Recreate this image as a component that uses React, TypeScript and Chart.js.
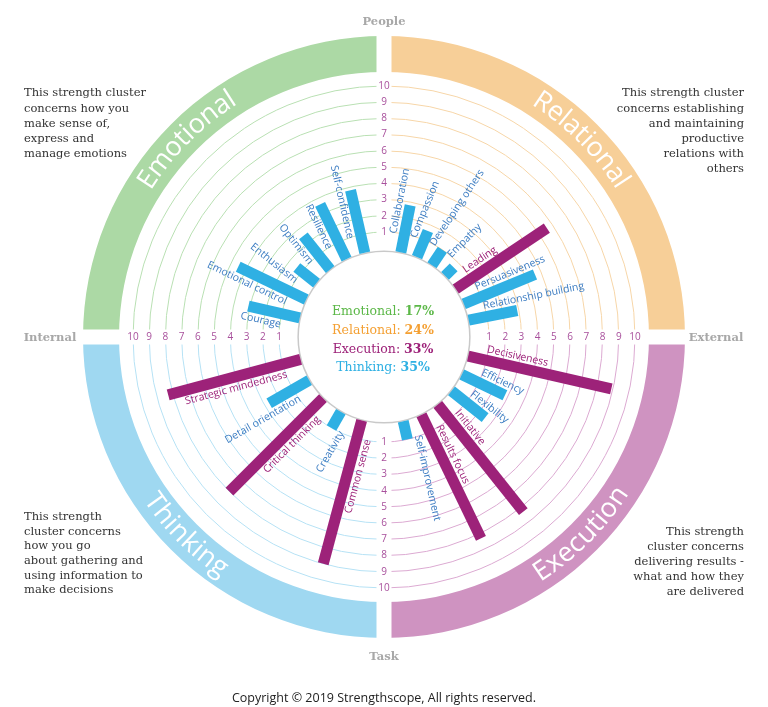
import React, { useEffect, useRef } from 'react';
import { Chart, registerables } from 'chart.js';

Chart.register(...registerables);

// ---------------- data ----------------
const executionStrengths = ['Decisiveness', 'Efficiency', 'Flexibility', 'Initiative', 'Results focus', 'Self-improvement'];
const executionScores = [8.9, 2.8, 2.5, 8.3, 8.3, 1.0];

const thinkingStrengths = ['Common sense', 'Creativity', 'Critical thinking', 'Detail orientation', 'Strategic mindedness'];
const thinkingScores = [9.0, 1.0, 8.0, 2.7, 8.3];

const emotionalStrengths = ['Courage', 'Emotional control', 'Enthusiasm', 'Optimism', 'Resilience', 'Self-confidence'];
const emotionalScores = [3.1, 4.5, 1.4, 2.5, 3.6, 3.8];

const relationalStrengths = ['Collaboration', 'Compassion', 'Developing others', 'Empathy', 'Leading', 'Persuasiveness', 'Relationship building'];
const relationalScores = [2.8, 1.6, 1.0, 0.6, 6.6, 4.6, 2.9];

const topStrengths = ['Leading', 'Decisiveness', 'Initiative', 'Results focus', 'Common sense', 'Critical thinking', 'Strategic mindedness'];

const clusterLabels = ['Emotional', 'Relational', 'Execution', 'Thinking'];
const clusterShares = [17, 24, 33, 35];

const ringTicks = [1, 2, 3, 4, 5, 6, 7, 8, 9, 10];

const axisTop = 'People';
const axisBottom = 'Task';
const axisLeft = 'Internal';
const axisRight = 'External';

const emotionalText = ['This strength cluster', 'concerns how you', 'make sense of,', 'express and', 'manage emotions'];
const relationalText = ['This strength cluster', 'concerns establishing', 'and maintaining', 'productive', 'relations with', 'others'];
const thinkingText = ['This strength', 'cluster concerns', 'how you go', 'about gathering and', 'using information to', 'make decisions'];
const executionText = ['This strength', 'cluster concerns', 'delivering results -', 'what and how they', 'are delivered'];

const copyrightText = 'Copyright © 2019 Strengthscope, All rights reserved.';

// ---------------- styling ----------------
const DEG = Math.PI / 180;
const SLAB = '"DejaVu Serif", serif';
const SANS = '"Open Sans", "Noto Sans", sans-serif';
const BAR_BLUE = '#2fb0e3';
const BAR_PURPLE = '#9d2279';
const LABEL_BLUE = '#3b7cc2';
const TICK_COLOR = '#a8509c';
const AXIS_GREY = '#a8a8a8';

const quadStyles: Record<string, { start: number; band: string; ring: string; text: string }> = {
  Emotional: { start: 180, band: '#acd9a5', ring: '#b9e0b3', text: '#5cb848' },
  Relational: { start: 270, band: '#f7cf98', ring: '#f7d6a8', text: '#f4a033' },
  Execution: { start: 0, band: '#cf93c1', ring: '#dcaad2', text: BAR_PURPLE },
  Thinking: { start: 90, band: '#9fd8f1', ring: '#b6e2f5', text: BAR_BLUE },
};

type Bar = { name: string; score: number; angle: number; top: boolean };

function layoutQuadrant(names: string[], scores: number[], startDeg: number): Bar[] {
  const step = 90 / (names.length + 1);
  return names.map((name, i) => ({
    name,
    score: scores[i],
    angle: (startDeg + step * (i + 1)) * DEG,
    top: topStrengths.includes(name),
  }));
}

const bars: Bar[] = [
  ...layoutQuadrant(executionStrengths, executionScores, quadStyles.Execution.start),
  ...layoutQuadrant(thinkingStrengths, thinkingScores, quadStyles.Thinking.start),
  ...layoutQuadrant(emotionalStrengths, emotionalScores, quadStyles.Emotional.start),
  ...layoutQuadrant(relationalStrengths, relationalScores, quadStyles.Relational.start),
];

function drawArcText(ctx: CanvasRenderingContext2D, text: string, cx: number, cy: number, R: number, center: number, topHalf: boolean) {
  const total = ctx.measureText(text).width;
  const totalAngle = total / R;
  let a = topHalf ? center - totalAngle / 2 : center + totalAngle / 2;
  for (const ch of text) {
    const w = ctx.measureText(ch).width;
    const mid = topHalf ? a + w / 2 / R : a - w / 2 / R;
    ctx.save();
    ctx.translate(cx + R * Math.cos(mid), cy + R * Math.sin(mid));
    ctx.rotate(topHalf ? mid + Math.PI / 2 : mid - Math.PI / 2);
    ctx.textAlign = 'center';
    ctx.textBaseline = 'middle';
    ctx.fillText(ch, 0, 0);
    ctx.restore();
    a = topHalf ? a + w / R : a - w / R;
  }
}

function drawLines(ctx: CanvasRenderingContext2D, lines: string[], x: number, y0: number, step: number, align: CanvasTextAlign) {
  ctx.textAlign = align;
  ctx.textBaseline = 'middle';
  lines.forEach((l, i) => ctx.fillText(l, x, y0 + i * step));
}

const wheelPlugin = {
  id: 'strengthWheel',
  beforeDatasetsDraw(chart: any) {
    const ctx: CanvasRenderingContext2D = chart.ctx;
    const s = chart.scales.r;
    const cx = s.xCenter;
    const cy = s.yCenter;
    const R = (v: number) => s.getDistanceFromCenterForValue(v);
    ctx.save();
    const bandIn = R(10.86);
    const bandOut = R(13.08);
    // outer cluster bands
    clusterLabels.forEach((c) => {
      const q = quadStyles[c];
      ctx.beginPath();
      ctx.arc(cx, cy, bandOut, q.start * DEG, (q.start + 90) * DEG);
      ctx.arc(cx, cy, bandIn, (q.start + 90) * DEG, q.start * DEG, true);
      ctx.closePath();
      ctx.fillStyle = q.band;
      ctx.fill();
    });
    // rings
    ringTicks.forEach((v) => {
      clusterLabels.forEach((c) => {
        const q = quadStyles[c];
        ctx.beginPath();
        ctx.arc(cx, cy, R(v), q.start * DEG, (q.start + 90) * DEG);
        ctx.strokeStyle = q.ring;
        ctx.lineWidth = 1;
        ctx.stroke();
      });
    });
    // white cross gaps
    const half = 7.5;
    ctx.fillStyle = '#ffffff';
    ctx.fillRect(cx - half, cy - bandOut - 2, half * 2, bandOut * 2 + 4);
    ctx.fillRect(cx - bandOut - 2, cy - half, bandOut * 2 + 4, half * 2);
    // tick labels
    ctx.fillStyle = TICK_COLOR;
    ctx.font = `10px ${SANS}`;
    ctx.textAlign = 'center';
    ctx.textBaseline = 'middle';
    ringTicks.forEach((v) => {
      const r = R(v);
      const t = String(v);
      ctx.fillText(t, cx, cy - r);
      ctx.fillText(t, cx, cy + r);
      ctx.fillText(t, cx - r, cy);
      ctx.fillText(t, cx + r, cy);
    });
    // band titles
    ctx.fillStyle = '#ffffff';
    ctx.font = `27px ${SANS}`;
    const mid = (bandIn + bandOut) / 2;
    clusterLabels.forEach((c) => {
      const q = quadStyles[c];
      const center = (q.start + 45) * DEG;
      const topHalf = Math.sin(center) < 0;
      drawArcText(ctx, c, cx, cy, mid, center, topHalf);
    });
    // centre circle
    ctx.beginPath();
    ctx.arc(cx, cy, R(-0.18), 0, Math.PI * 2);
    ctx.fillStyle = '#ffffff';
    ctx.fill();
    ctx.strokeStyle = '#c9c9c9';
    ctx.lineWidth = 1.5;
    ctx.stroke();
    ctx.restore();
  },
  afterDatasetsDraw(chart: any) {
    const ctx: CanvasRenderingContext2D = chart.ctx;
    const s = chart.scales.r;
    const cx = s.xCenter;
    const cy = s.yCenter;
    const R = (v: number) => s.getDistanceFromCenterForValue(v);
    ctx.save();
    const barW = 11;
    const r0 = R(-0.15);
    const labelStart = R(0.9);
    const off = 11;
    bars.forEach((b) => {
      const r1 = R(b.score);
      ctx.save();
      ctx.translate(cx, cy);
      ctx.rotate(b.angle);
      ctx.fillStyle = b.top ? BAR_PURPLE : BAR_BLUE;
      ctx.fillRect(r0, -barW / 2, r1 - r0, barW);
      ctx.restore();
      // label
      ctx.save();
      ctx.translate(cx, cy);
      ctx.font = `10.5px ${SANS}`;
      ctx.fillStyle = b.top ? BAR_PURPLE : LABEL_BLUE;
      ctx.textBaseline = 'middle';
      if (Math.cos(b.angle) > 0) {
        ctx.rotate(b.angle);
        ctx.textAlign = 'left';
        ctx.fillText(b.name, labelStart, -off);
      } else {
        ctx.rotate(b.angle + Math.PI);
        ctx.textAlign = 'right';
        ctx.fillText(b.name, -labelStart, off);
      }
      ctx.restore();
    });

    // centre percentages
    const lineGap = 18.7;
    clusterLabels.forEach((c, i) => {
      const y = cy - 25 + i * lineGap;
      const a = `${c}: `;
      const b = `${clusterShares[i]}%`;
      ctx.font = `12.5px ${SLAB}`;
      const wa = ctx.measureText(a).width;
      ctx.font = `bold 12.5px ${SLAB}`;
      const wb = ctx.measureText(b).width;
      const x0 = cx - 1 - (wa + wb) / 2;
      ctx.fillStyle = quadStyles[c].text;
      ctx.textAlign = 'left';
      ctx.textBaseline = 'middle';
      ctx.font = `12.5px ${SLAB}`;
      ctx.fillText(a, x0, y);
      ctx.font = `bold 12.5px ${SLAB}`;
      ctx.fillText(b, x0 + wa, y);
    });

    // axis labels
    ctx.fillStyle = AXIS_GREY;
    ctx.font = `bold 11.5px ${SLAB}`;
    ctx.textAlign = 'center';
    ctx.textBaseline = 'middle';
    ctx.fillText(axisTop, cx, 22);
    ctx.fillText(axisBottom, cx, 657);
    ctx.fillText(axisLeft, 50, cy + 1);
    ctx.fillText(axisRight, 716, cy + 1);

    // descriptions
    ctx.fillStyle = '#333333';
    ctx.font = `11.5px ${SLAB}`;
    drawLines(ctx, emotionalText, 24, 93.5, 15.1, 'left');
    drawLines(ctx, relationalText, 744, 93.5, 15.1, 'right');
    drawLines(ctx, thinkingText, 24, 517, 14.7, 'left');
    drawLines(ctx, executionText, 744, 532, 14.9, 'right');

    // copyright
    ctx.fillStyle = '#222222';
    ctx.font = `12.5px ${SANS}`;
    ctx.textAlign = 'center';
    ctx.fillText(copyrightText, cx, 698);
    ctx.restore();
  },
};

export default function App() {
  const ref = useRef<HTMLCanvasElement | null>(null);
  useEffect(() => {
    document.body.style.margin = '0';
    const canvas = ref.current;
    if (!canvas) return;
    const chart = new Chart(canvas, {
      type: 'polarArea',
      data: {
        labels: bars.map((b) => b.name),
        datasets: [
          {
            data: bars.map((b) => b.score),
            backgroundColor: 'rgba(0,0,0,0)',
            borderWidth: 0,
          },
        ],
      },
      options: {
        responsive: false,
        animation: false,
        events: [],
        layout: { padding: { top: 0, bottom: 33, left: 0, right: 0 } },
        plugins: { legend: { display: false }, tooltip: { enabled: false } },
        scales: {
          r: {
            type: 'radialLinear',
            min: -5.473,
            max: 15.3,
            ticks: { display: false },
            grid: { display: false },
            angleLines: { display: false },
            pointLabels: { display: false },
          },
        },
      } as any,
      plugins: [wheelPlugin],
    });
    return () => chart.destroy();
  }, []);
  return (
    <div style={{ position: 'fixed', left: 0, top: 0, width: 768, height: 707, background: '#fff' }}>
      <canvas ref={ref} width={768} height={707} style={{ display: 'block' }} />
    </div>
  );
}
